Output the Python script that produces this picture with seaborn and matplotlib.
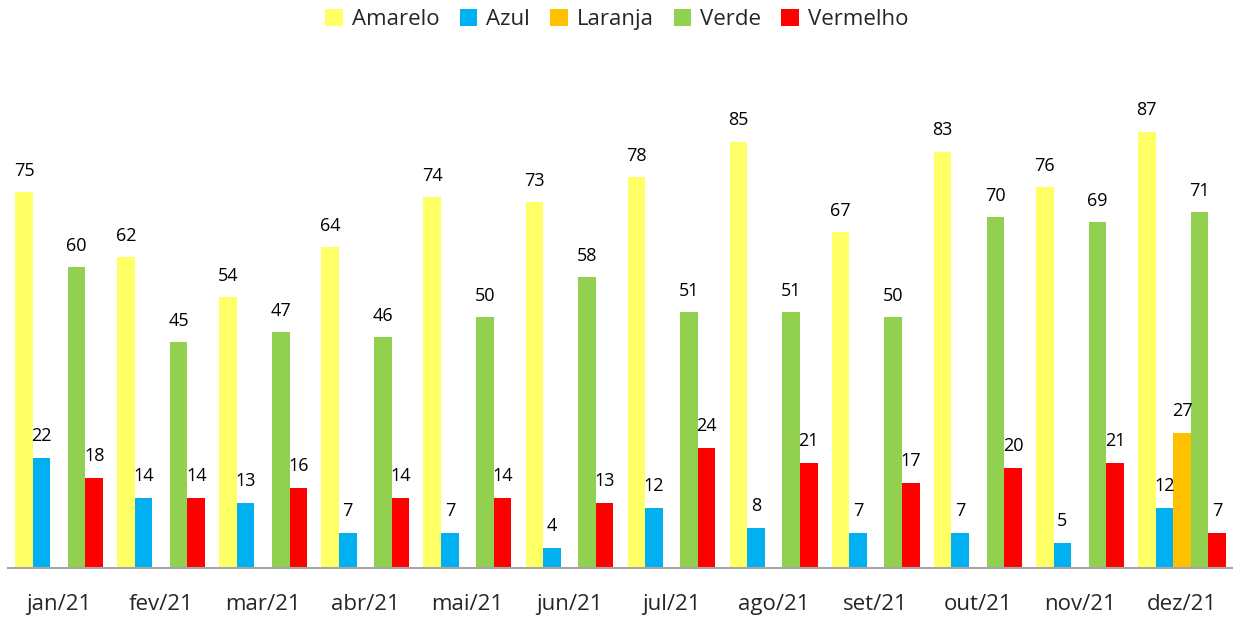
import numpy as np
import pandas as pd
import matplotlib
matplotlib.use("Agg")
import matplotlib.pyplot as plt
import seaborn as sns

# Data
meses = ["jan/21", "fev/21", "mar/21", "abr/21", "mai/21", "jun/21",
         "jul/21", "ago/21", "set/21", "out/21", "nov/21", "dez/21"]
amarelo = [75, 62, 54, 64, 74, 73, 78, 85, 67, 83, 76, 87]
azul = [22, 14, 13, 7, 7, 4, 12, 8, 7, 7, 5, 12]
laranja = [np.nan] * 11 + [27]
verde = [60, 45, 47, 46, 50, 58, 51, 51, 50, 70, 69, 71]
vermelho = [18, 14, 16, 14, 14, 13, 24, 21, 17, 20, 21, 7]

series = ["Amarelo", "Azul", "Laranja", "Verde", "Vermelho"]
cores = ["#FFFF66", "#00B0F0", "#FFC000", "#92D050", "#FF0000"]

df = pd.DataFrame({"Mes": meses, "Amarelo": amarelo, "Azul": azul,
                   "Laranja": laranja, "Verde": verde, "Vermelho": vermelho})
df = df.melt(id_vars="Mes", var_name="Cor", value_name="Valor")

sns.set_style("white")
plt.rcParams["font.family"] = ["Open Sans", "DejaVu Sans"]

fig = plt.figure(figsize=(12.33, 6.18), dpi=100)
ax = fig.add_axes([0.0065, 0.081, 0.9935, 0.811])

sns.barplot(data=df, x="Mes", y="Valor", hue="Cor", hue_order=series,
            palette=cores, width=0.86, gap=0, saturation=1, ax=ax,
            errorbar=None, legend=True, linewidth=0)

# value labels on top of bars
for c in ax.containers:
    labels = ["" if np.isnan(v) else f"{v:.0f}" for v in c.datavalues]
    ax.bar_label(c, labels=labels, padding=9, fontsize=13, color="black")

ax.set_ylim(0, 100)
ax.set_xlim(-0.5, 11.5)
ax.set_xlabel("")
ax.set_ylabel("")
ax.set_yticks([])
ax.tick_params(axis="x", length=0, pad=19, labelsize=16)
for s in ["top", "right", "left"]:
    ax.spines[s].set_visible(False)
ax.spines["bottom"].set_color("#A6A6A6")
ax.spines["bottom"].set_linewidth(1.5)

ax.legend(loc="upper center", bbox_to_anchor=(0.497, 1.155), ncol=5,
          frameon=False, fontsize=16, handlelength=0.8, handleheight=0.8,
          handletextpad=0.4, columnspacing=0.9)

fig.savefig("out.png", dpi=100)
